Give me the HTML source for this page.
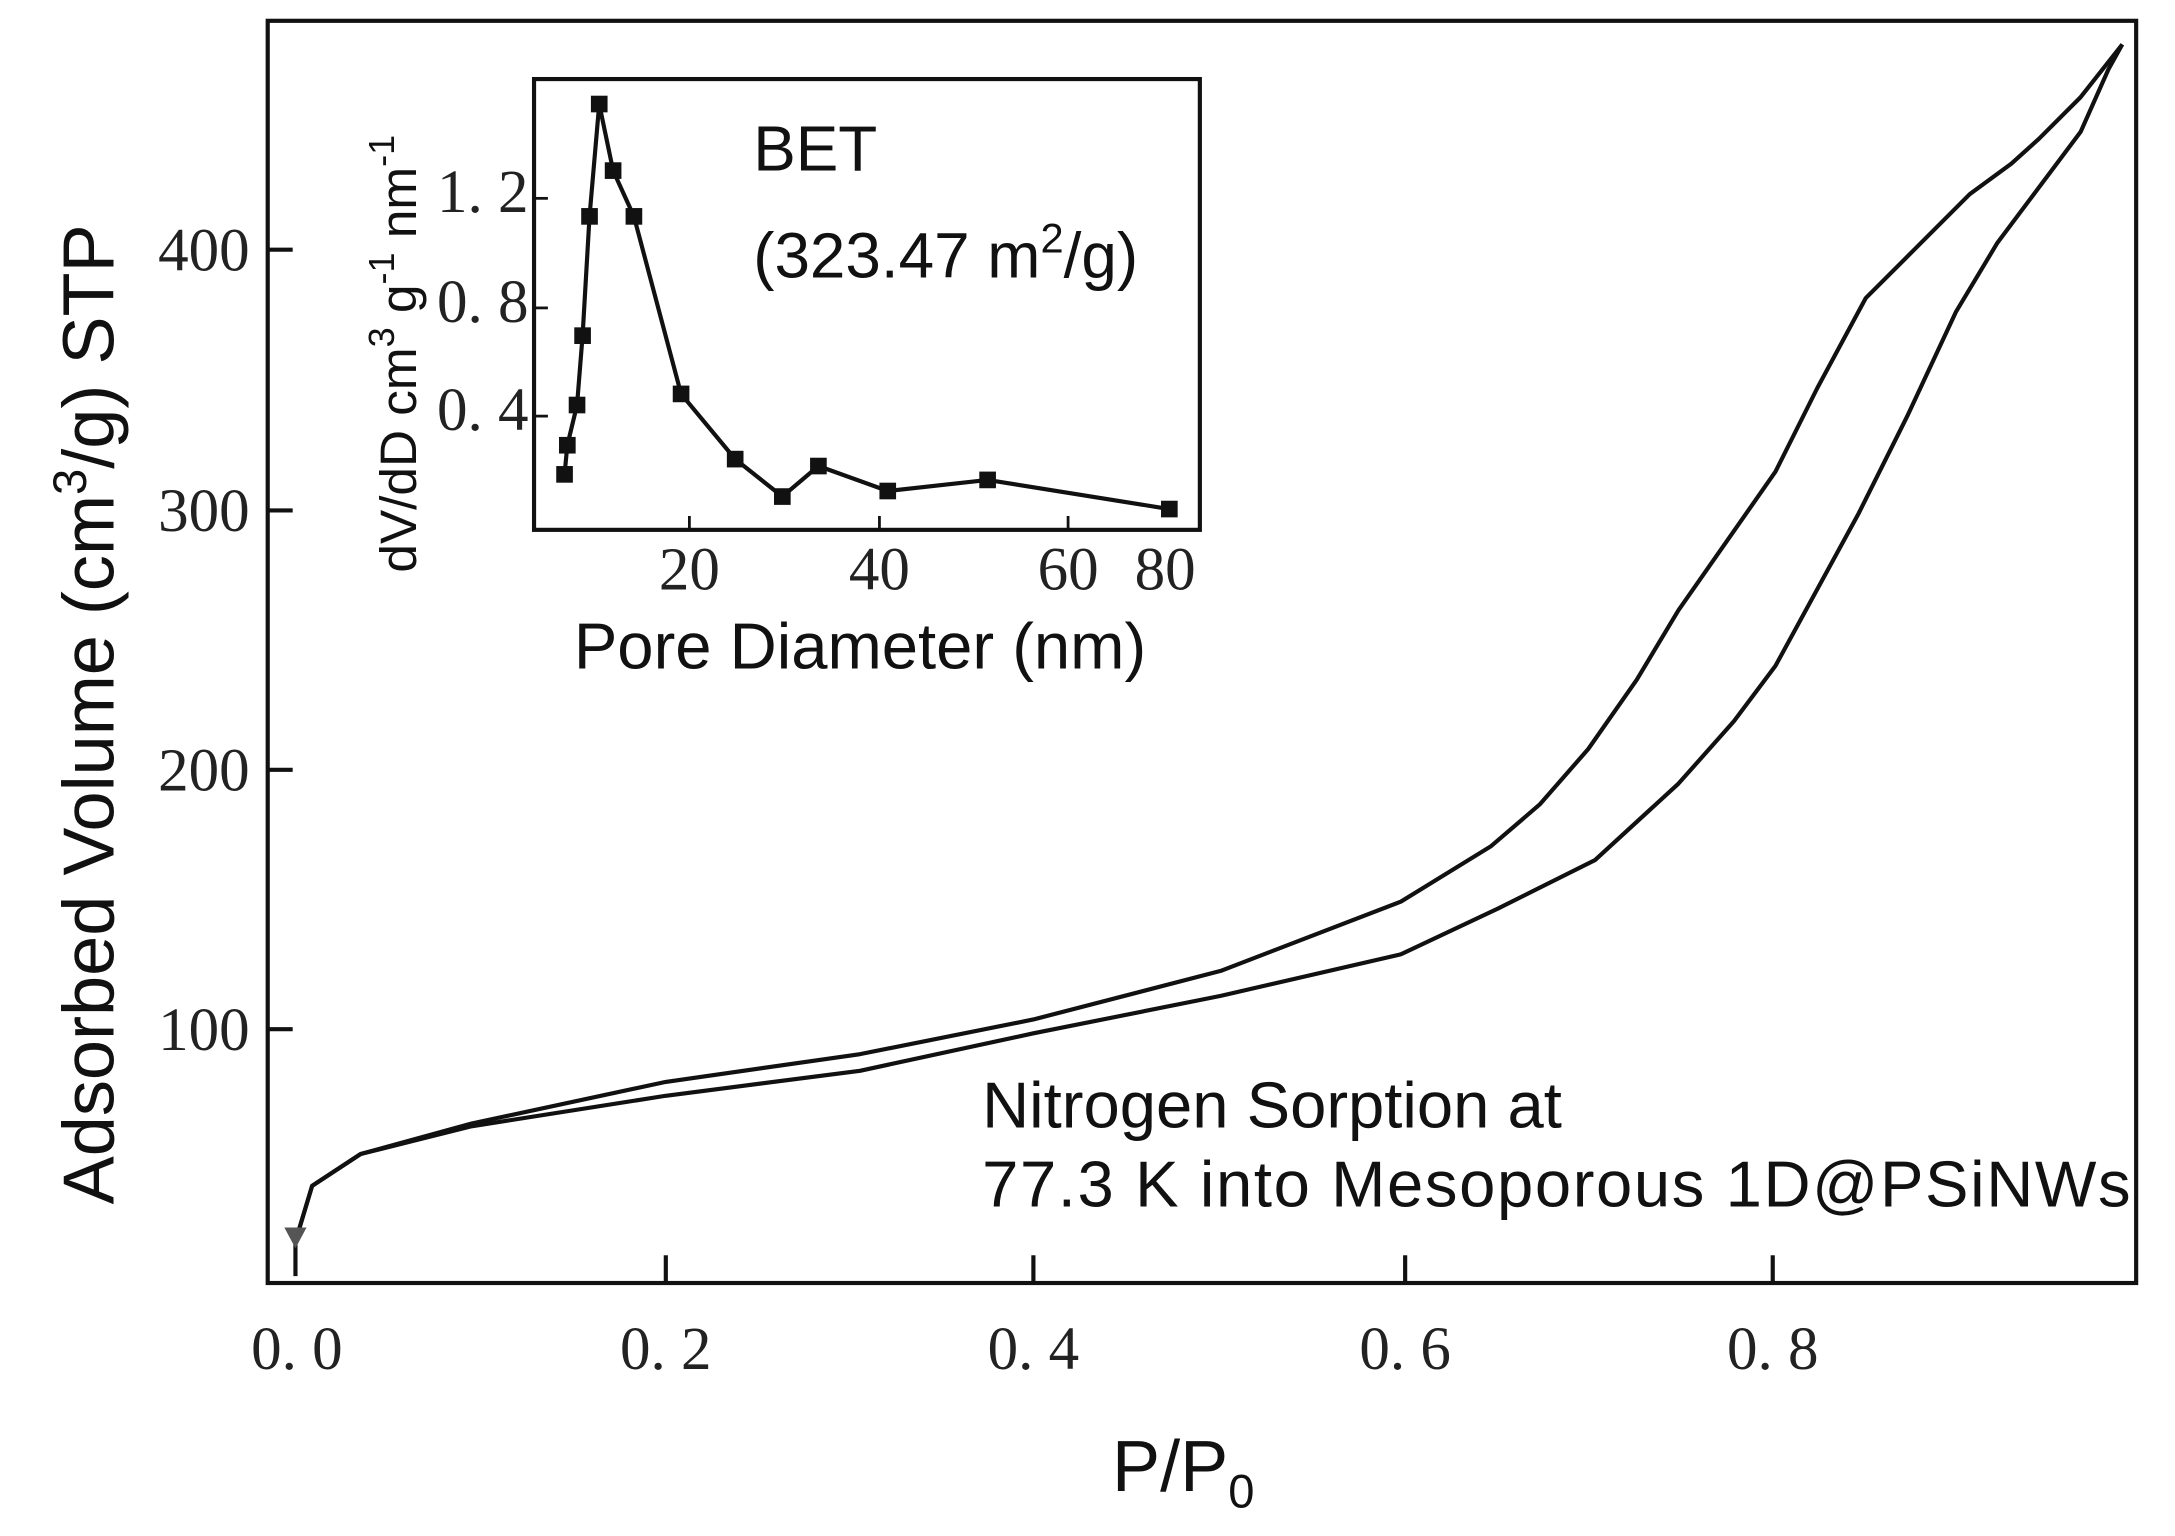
<!DOCTYPE html>
<html><head><meta charset="utf-8"><style>
html,body{margin:0;padding:0;background:#fff;}
svg{display:block;}
.t{font-family:"Liberation Serif",serif;font-size:44px;fill:#222;}
.s{font-family:"Liberation Sans",sans-serif;fill:#111;}
</style></head><body>
<svg width="2175" height="1536" viewBox="0 0 1568 1107.4" preserveAspectRatio="none" xmlns="http://www.w3.org/2000/svg">
<rect x="0" y="0" width="1568" height="1108" fill="#fff"/>
<rect x="193" y="15" width="1347" height="910" fill="none" stroke="#111" stroke-width="3"/>
<g stroke="#111" stroke-width="3">
<line x1="480" y1="925" x2="480" y2="905"/><line x1="745" y1="925" x2="745" y2="905"/>
<line x1="1013" y1="925" x2="1013" y2="905"/><line x1="1278" y1="925" x2="1278" y2="905"/>
<line x1="193" y1="180" x2="211" y2="180"/><line x1="193" y1="368" x2="211" y2="368"/>
<line x1="193" y1="555" x2="211" y2="555"/><line x1="193" y1="742" x2="211" y2="742"/>
</g>
<g class="t" text-anchor="middle">
<text x="214" y="987">0. 0</text><text x="480" y="987">0. 2</text><text x="745" y="987">0. 4</text>
<text x="1013" y="987">0. 6</text><text x="1278" y="987">0. 8</text>
</g>
<g class="t" text-anchor="end">
<text x="180" y="195">400</text><text x="180" y="383">300</text><text x="180" y="570">200</text><text x="180" y="757">100</text>
</g>
<text class="s" x="853" y="1075" font-size="52" text-anchor="middle">P/P<tspan font-size="34" dy="12">0</tspan></text>
<text class="s" font-size="52" transform="translate(82,515) rotate(-90)" text-anchor="middle">Adsorbed Volume (cm<tspan font-size="34" dy="-20">3</tspan><tspan dy="20">/g) STP</tspan></text>
<text class="s" x="708" y="813" font-size="47">Nitrogen Sorption at</text>
<text class="s" x="708" y="870" font-size="47" textLength="828">77.3 K into  Mesoporous 1D@PSiNWs</text>
<g fill="none" stroke="#111" stroke-width="3" stroke-linejoin="round">
<polyline points="213,920 213,895 225,855 260,832 340,812 480,790 620,772 745,745 880,718 1010,688 1080,655 1150,620 1210,565 1250,520 1280,480 1310,425 1340,370 1375,300 1410,225 1440,175 1470,135 1500,95 1520,50 1530,32"/>
<polyline points="213,895 225,855 260,832 340,810 480,780 620,760 745,735 880,700 1010,650 1075,610 1110,580 1145,540 1180,490 1210,440 1245,390 1280,340 1310,280 1345,215 1380,180 1420,140 1450,118 1470,100 1500,70 1530,32"/>
</g>
<path d="M205,885 L221,885 L213,900 Z" fill="#555"/>
<rect x="385" y="57" width="480" height="325" fill="#fff" stroke="#111" stroke-width="3"/>
<g stroke="#111" stroke-width="2">
<line x1="497" y1="382" x2="497" y2="372"/><line x1="634" y1="382" x2="634" y2="372"/>
<line x1="770" y1="382" x2="770" y2="372"/>
<line x1="385" y1="143" x2="395" y2="143"/><line x1="385" y1="222" x2="395" y2="222"/><line x1="385" y1="300" x2="395" y2="300"/>
</g>
<g class="t" font-size="32" text-anchor="middle">
<text x="497" y="425">20</text><text x="634" y="425">40</text><text x="770" y="425">60</text><text x="840" y="425">80</text>
</g>
<g class="t" font-size="29" text-anchor="end">
<text x="381" y="153">1. 2</text><text x="381" y="232">0. 8</text><text x="381" y="310">0. 4</text>
</g>
<text class="s" x="620" y="482" font-size="47" text-anchor="middle">Pore Diameter (nm)</text>
<text class="s" font-size="37" transform="translate(300,255) rotate(-90)" text-anchor="middle">dV/dD cm<tspan font-size="26" dy="-16">3</tspan><tspan dy="16"> g</tspan><tspan font-size="26" dy="-16">-1</tspan><tspan dy="16"> nm</tspan><tspan font-size="26" dy="-16">-1</tspan></text>
<text class="s" x="543" y="123" font-size="46">BET</text>
<text class="s" x="543" y="200" font-size="46">(323.47 m<tspan font-size="30" dy="-18">2</tspan><tspan dy="18">/g)</tspan></text>
<polyline fill="none" stroke="#111" stroke-width="3" points="407,342 409,321 416,292 420,242 425,156 432,75 442,123 457,156 491,284 530,331 564,358 590,336 640,354 712,346 843,367"/>
<g fill="#111">
<rect x="401" y="336" width="12" height="12"/><rect x="403" y="315" width="12" height="12"/><rect x="410" y="286" width="12" height="12"/>
<rect x="414" y="236" width="12" height="12"/><rect x="419" y="150" width="12" height="12"/><rect x="426" y="69" width="12" height="12"/>
<rect x="436" y="117" width="12" height="12"/><rect x="451" y="150" width="12" height="12"/><rect x="485" y="278" width="12" height="12"/>
<rect x="524" y="325" width="12" height="12"/><rect x="558" y="352" width="12" height="12"/><rect x="584" y="330" width="12" height="12"/>
<rect x="634" y="348" width="12" height="12"/><rect x="706" y="340" width="12" height="12"/><rect x="837" y="361" width="12" height="12"/>
</g>
</svg>
</body></html>
